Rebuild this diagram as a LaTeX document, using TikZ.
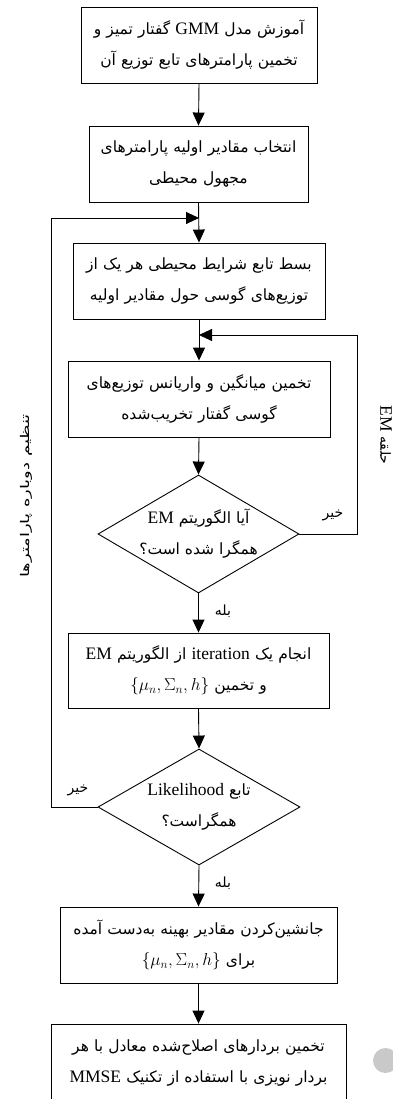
\documentclass[tikz,border=0pt]{standalone}
\usepackage{fontspec}
\setmainfont{Liberation Serif}
\newfontfamily\arabicfont[Script=Arabic]{DejaVu Sans}
\TeXXeTstate=1
\usetikzlibrary{shapes.geometric,arrows.meta}
\newcommand\rtl[1]{{\arabicfont\beginR #1\endR}}
\newcommand\ltr[1]{\beginL{\rmfamily\fontsize{17.5}{31}\selectfont #1}\endL}
\newcommand\params{\beginL{\fontsize{18}{31}\selectfont$\{\mu_n,\Sigma_n,h\}$}\endL}
\tikzset{
  x=1pt, y=1pt,
  flow/.style={draw, line width=0.9pt, rectangle, inner sep=0pt, align=center,
    font=\fontsize{15.5}{31}\selectfont},
  dia/.style={draw, line width=0.9pt, shape=diamond, inner sep=0pt},
  diatext/.style={align=center, inner sep=0pt, font=\fontsize{15.5}{31}\selectfont},
  arr/.style={line width=0.9pt, -{Triangle[length=13pt,width=12pt]}},
  lbl/.style={inner sep=0pt, font=\fontsize{14}{16}\selectfont},
}
\begin{document}
\begin{tikzpicture}
\useasboundingbox (0,0) rectangle (393,-1099);
\node[flow, minimum width=236pt, minimum height=76pt, text width=232pt] (b1) at (199,-45)
  {\rtl{آموزش مدل \ltr{GMM} گفتار تمیز و}\\\rtl{تخمین پارامترهای تابع توزیع آن}};
\node[flow, minimum width=219pt, minimum height=76pt, text width=215pt] (b2) at (198.5,-164)
  {\rtl{انتخاب مقادیر اولیه پارامترهای}\\\rtl{مجهول محیطی}};
\node[flow, minimum width=252pt, minimum height=76pt, text width=248pt] (b3) at (199,-281)
  {\rtl{بسط تابع شرایط محیطی هر یک از}\\\rtl{توزیع‌های گوسی حول مقادیر اولیه}};
\node[flow, minimum width=262pt, minimum height=76pt, text width=258pt] (b4) at (199,-399)
  {\rtl{تخمین میانگین و واریانس توزیع‌های}\\\rtl{گوسی گفتار تخریب‌شده}};
\node[dia, minimum width=201pt, minimum height=118pt] (d1) at (198.5,-534) {};
\node[diatext] (d1t) at (d1.center)
  {\rtl{آیا الگوریتم \ltr{EM}}\\\rtl{همگرا شده است؟}};
\node[flow, minimum width=261pt, minimum height=75pt, text width=257pt] (b5) at (198.5,-670.5)
  {\rtl{انجام یک \ltr{iteration} از الگوریتم \ltr{EM}}\\\rtl{و تخمین \params}};
\node[dia, minimum width=202pt, minimum height=116pt] (d2) at (199,-807) {};
\node[diatext] (d2t) at (d2.center)
  {\rtl{تابع \ltr{Likelihood}}\\\rtl{همگراست؟}};
\node[flow, minimum width=277pt, minimum height=76pt, text width=273pt] (b6) at (198.5,-945)
  {\rtl{جانشین‌کردن مقادیر بهینه به‌دست آمده}\\\rtl{برای \params}};
\node[flow, minimum width=295pt, minimum height=77pt, text width=291pt] (b7) at (198.5,-1062.5)
  {\rtl{تخمین بردارهای اصلاح‌شده معادل با هر}\\\rtl{بردار نویزی با استفاده از تکنیک \ltr{MMSE}}};

\coordinate (j1) at (199,-335);
\coordinate (j2) at (199,-218);
\coordinate (emc) at (357,-534);
\coordinate (lpc) at (51,-807);

\draw[arr] (b1.south) -- (b2.north);
\draw[arr] (b2.south) -- (b3.north);
\draw[arr] (b3.south) -- (b4.north);
\draw[arr] (b4.south) -- (d1.north);
\draw[arr] (d1.south) -- (b5.north);
\draw[arr] (b5.south) -- (d2.north);
\draw[arr] (d2.south) -- (b6.north);
\draw[arr] (b6.south) -- (b7.north);
\draw[arr] (d1.east) -- (emc) |- (j1);
\draw[arr] (d2.west) -- (lpc) |- (j2);

\node[lbl] (no1) at (333,-515) {\rtl{خیر}};
\node[lbl] (yes1) at (223,-611) {\rtl{بله}};
\node[lbl] (no2) at (78,-790) {\rtl{خیر}};
\node[lbl] (yes2) at (223,-883) {\rtl{بله}};
\node[lbl, rotate=90] (adj) at (26,-496) {\fontsize{12}{14}\selectfont\scalebox{1.5}[1]{\rtl{تنظیم دوباره پارامترها}}};
\node[lbl, rotate=-90] (emloop) at (386,-435) {\rtl{حلقه \ltr{EM}}};

\fill[gray!42] (385.5,-1060.5) circle (12.5);
\end{tikzpicture}
\end{document}
